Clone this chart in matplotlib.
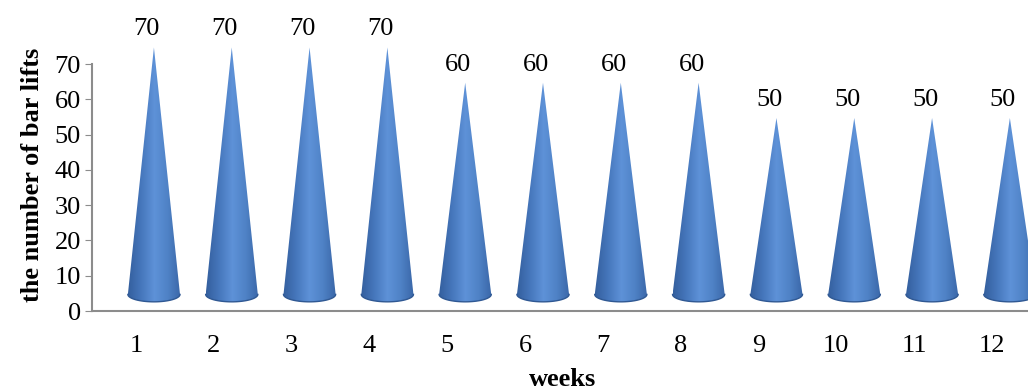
import numpy as np
import matplotlib
matplotlib.use("Agg")
import matplotlib.pyplot as plt
from matplotlib.patches import Polygon
from matplotlib.colors import LinearSegmentedColormap

weeks = [1, 2, 3, 4, 5, 6, 7, 8, 9, 10, 11, 12]
lifts = [70, 70, 70, 70, 60, 60, 60, 60, 50, 50, 50, 50]
week_labels = [str(w) for w in weeks]

plt.rcParams['font.family'] = ['Liberation Serif', 'DejaVu Serif']
FS = 19

W, H = 1028, 390
fig = plt.figure(figsize=(W / 100, H / 100), dpi=100)
# axes box in pixels: left 92, bottom at y=311 (from top), top at y=64
ax = fig.add_axes([92 / W, (H - 311) / H, (W - 92) / W, (311 - 64) / H])
ax.set_xlim(0.434, 12.463)
ax.set_ylim(0, 70)

# cone colouring: dark edges, light strip left of centre
cmap = LinearSegmentedColormap.from_list(
    "cone", ["#345f9e", "#4677bc", "#5e92d8", "#4f82c6", "#3a67a8"])
grad = np.linspace(0, 1, 200).reshape(1, -1)

dx = 0.23      # 3d depth shift (x units)
dy = 4.7       # 3d depth shift (y units)
hw = 0.335     # half width of the cone base
eh = 4.2       # height of the base ellipse

for w, v in zip(weeks, lifts):
    xc = w + dx
    tip = v + dy
    t = np.linspace(np.pi, 2 * np.pi, 60)
    base_x = xc + hw * np.cos(t)
    base_y = dy + eh / 2 * np.sin(t)
    pts = [(xc, tip)] + list(zip(base_x, base_y))
    poly = Polygon(pts, closed=True, facecolor="none", edgecolor="none", clip_on=False)
    ax.add_patch(poly)
    im = ax.imshow(grad, cmap=cmap, aspect="auto", interpolation="bilinear",
                   extent=[xc - hw, xc + hw, dy - eh / 2, tip], zorder=2)
    im.set_clip_box(fig.bbox)
    im.set_clip_path(poly)
    # lower rim of the base
    ax.plot(base_x, base_y, color="#2f5893", lw=1.0, clip_on=False, zorder=3)
    ax.text(w + 0.14, tip + 2.0, str(v), ha="center", va="bottom",
            fontsize=FS, clip_on=False)

ax.set_xticks(weeks)
ax.set_xticklabels(week_labels, fontsize=FS)
ax.tick_params(axis="x", length=0, pad=17)
ax.set_yticks(range(0, 71, 10))
ax.tick_params(axis="y", labelsize=FS, length=5, color="#8c8c8c", direction="out", pad=3)

for s in ["top", "right"]:
    ax.spines[s].set_visible(False)
ax.spines["left"].set_color("#8c8c8c")
ax.spines["bottom"].set_color("#8c8c8c")
ax.spines["left"].set_linewidth(1.5)
ax.spines["bottom"].set_linewidth(1.5)
ax.patch.set_visible(False)

ax.set_ylabel("the number of bar lifts", fontsize=FS, fontweight="bold")
ax.yaxis.set_label_coords(-0.051, 0.55)
fig.text(563 / W, (H - 379) / H, "weeks", ha="center", va="center",
         fontsize=FS, fontweight="bold")

fig.savefig("out.png", dpi=100)
